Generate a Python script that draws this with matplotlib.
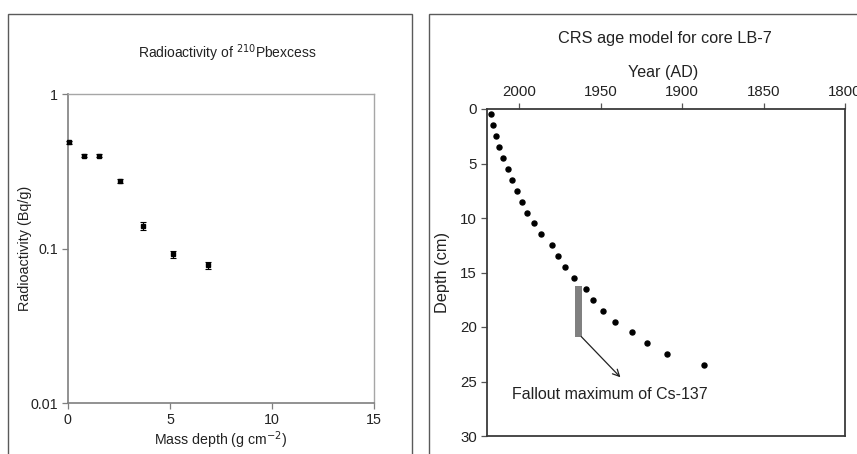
import matplotlib
matplotlib.use('Agg')
import matplotlib.pyplot as plt
from matplotlib.patches import Rectangle

plt.rcParams['font.family'] = ['Liberation Sans', 'DejaVu Sans']

# Left panel: 210Pb excess radioactivity vs mass depth
mass_depth = [0.08, 0.78, 1.55, 2.56, 3.70, 5.17, 6.85]
activity = [0.489, 0.401, 0.401, 0.273, 0.141, 0.092, 0.078]
activity_err = [0.010, 0.011, 0.010, 0.008, 0.0085, 0.0045, 0.0045]

# Right panel: CRS age model
depth_cm = [0.5, 1.5, 2.5, 3.5, 4.5, 5.5, 6.5, 7.5, 8.5, 9.5, 10.5, 11.5,
            12.5, 13.5, 14.5, 15.5, 16.5, 17.5, 18.5, 19.5, 20.5, 21.5, 22.5, 23.5]
year_ad = [2017.1, 2016.1, 2014.3, 2012.2, 2009.8, 2007.1, 2004.7, 2001.4,
           1998.2, 1995.1, 1991.2, 1986.7, 1980.2, 1976.5, 1972.0, 1966.3,
           1959.2, 1954.5, 1948.6, 1941.2, 1930.8, 1921.6, 1909.0, 1886.7]
cs_peak_years = (1961.5, 1966.0)
cs_peak_depths = (16.2, 20.9)

fig = plt.figure(figsize=(8.57, 4.54), dpi=100)
W, H = 857, 454


def fx(px):
    return px / W


def fy(py):
    return 1 - py / H


# Panel frames
frame_col = '#5a5a5a'
fig.patches.append(Rectangle((fx(8), fy(470)), fx(404), fy(14) - fy(470),
                             transform=fig.transFigure, fill=False, ec=frame_col, lw=1.0))
fig.patches.append(Rectangle((fx(429), fy(470)), fx(450), fy(14) - fy(470),
                             transform=fig.transFigure, fill=False, ec=frame_col, lw=1.0))

# ---- Left axes
ax1 = fig.add_axes([fx(67.7), fy(403.3), fx(374.3 - 67.7), fy(94.3) - fy(403.3)])
ax1.set_yscale('log')
ax1.set_xlim(0, 15)
ax1.set_ylim(0.01, 1)
ax1.errorbar(mass_depth, activity, yerr=activity_err, fmt='s', color='black',
             ms=3.5, elinewidth=0.8, capsize=2, capthick=0.8, clip_on=False, zorder=3)
ax1.set_xticks([0, 5, 10, 15])
ax1.set_yticks([0.01, 0.1, 1])
ax1.set_yticklabels(['0.01', '0.1', '1'])
ax1.minorticks_off()
for side in ['left', 'bottom']:
    ax1.spines[side].set_color('#7f7f7f')
    ax1.spines[side].set_linewidth(1.2)
for side in ['top', 'right']:
    ax1.spines[side].set_color('#a6a6a6')
    ax1.spines[side].set_linewidth(1.0)
ax1.tick_params(axis='both', direction='out', length=4, width=0.9, color='#7f7f7f',
                labelsize=10.3, labelcolor='#222222', pad=3)
ax1.set_xlabel('Mass depth (g cm$^{-2}$)', fontsize=10.2, color='#222222', labelpad=2)
ax1.set_ylabel('Radioactivity (Bq/g)', fontsize=10.4, color='#222222', labelpad=-1)
fig.text(fx(227), fy(53), 'Radioactivity of $^{210}$Pbexcess', ha='center', va='center',
         fontsize=10, color='#222222')

# ---- Right axes
ax2 = fig.add_axes([fx(486.7), fy(436), fx(845 - 486.7), fy(109) - fy(436)])
ax2.set_xlim(2020, 1800)
ax2.set_ylim(30, 0)
ax2.plot(year_ad, depth_cm, 'o', color='black', ms=3.6, zorder=3)
ax2.fill_betweenx(cs_peak_depths, cs_peak_years[0], cs_peak_years[1],
                  color='#808080', lw=0, zorder=2)
ax2.annotate('', xy=(1936.7, 24.8), xytext=(1963.1, 20.7),
             arrowprops=dict(arrowstyle='->', color='#222222', lw=0.9, mutation_scale=12))
ax2.text(2004.5, 26.2, 'Fallout maximum of Cs-137', ha='left', va='center',
         fontsize=11.5, color='#222222')
ax2.xaxis.tick_top()
ax2.set_xticks([2000, 1950, 1900, 1850, 1800])
ax2.set_yticks([0, 5, 10, 15, 20, 25, 30])
for side in ax2.spines.values():
    side.set_color('#3a3a3a')
    side.set_linewidth(1.3)
ax2.tick_params(axis='both', direction='out', length=4, width=0.9, color='#555555',
                labelsize=10.8, labelcolor='#222222', pad=3)
ax2.set_ylabel('Depth (cm)', fontsize=11.8, color='#222222', labelpad=7)
fig.text(fx(663), fy(72), 'Year (AD)', ha='center', va='center', fontsize=11.6, color='#222222')
fig.text(fx(665), fy(38), 'CRS age model for core LB-7', ha='center', va='center',
         fontsize=11.7, color='#222222')

fig.savefig('out.png', dpi=100)
